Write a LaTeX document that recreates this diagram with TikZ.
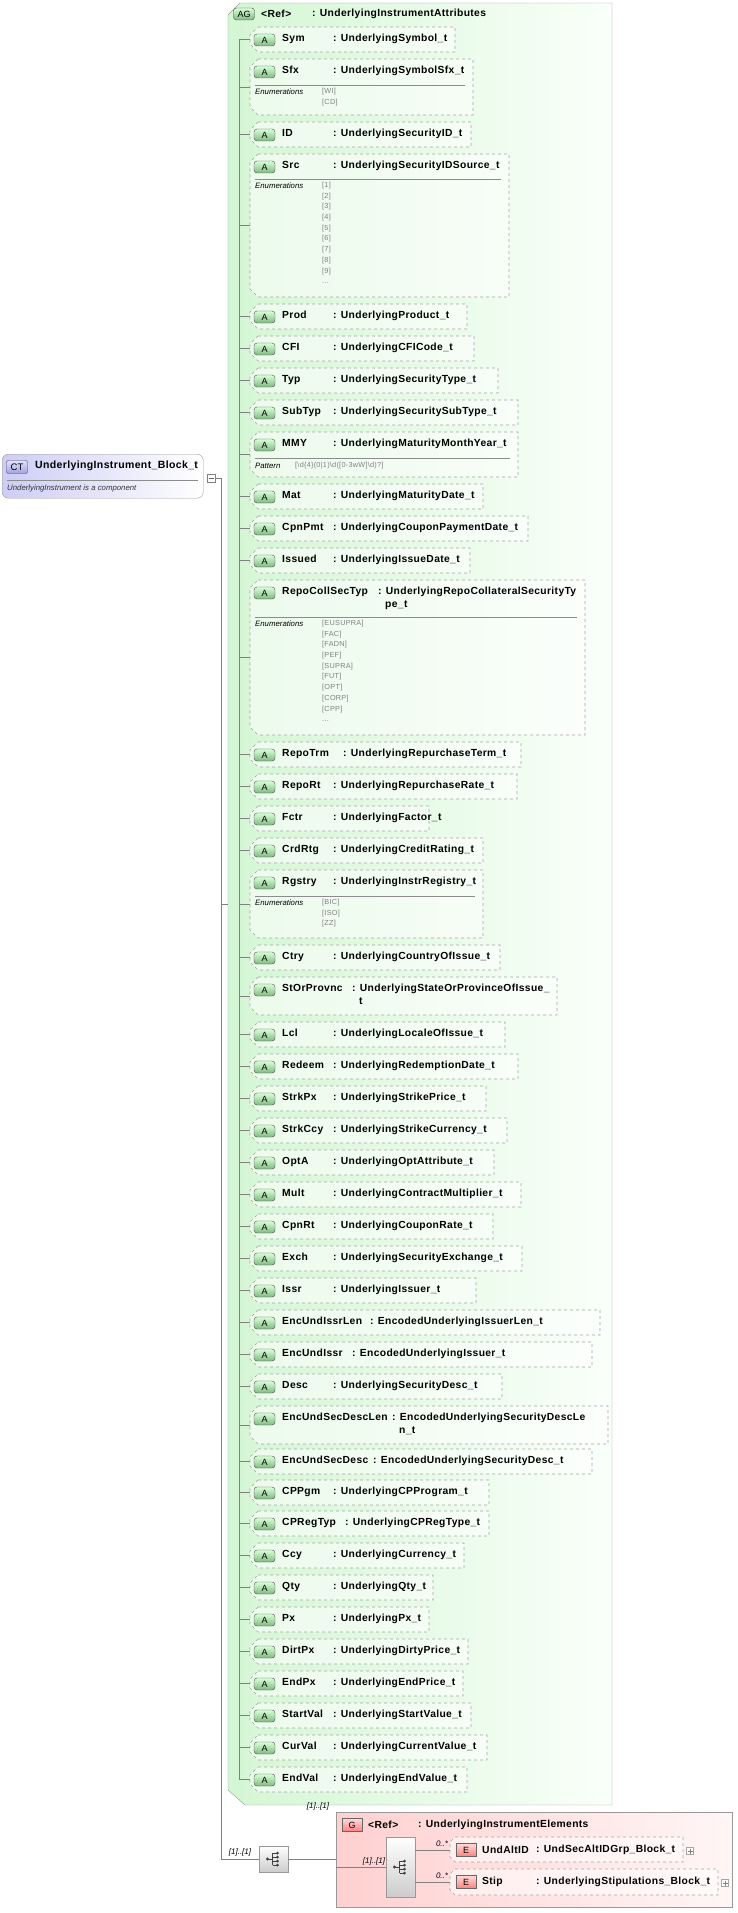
\documentclass[tikz,border=0pt]{standalone}
\usepackage{fontspec}
\setmainfont{Liberation Sans}
\newfontfamily\wide[LetterSpace=3.5]{Liberation Sans}
\begin{document}
\begin{tikzpicture}[x=1pt,y=-1pt,
  abox/.style={draw=black!35,dashed,fill=white,fill opacity=0.55,line width=0.6pt},
  aicon/.style={draw=black!70,rounded corners=3pt,top color=green!15!white,bottom color=green!45!black!50!white,minimum width=21pt,minimum height=12pt,inner sep=0pt,font=\fontsize{9}{10}\selectfont},
  aname/.style={anchor=north west,inner sep=0pt,font=\wide\fontsize{10.3}{12}\selectfont\bfseries},
  atype/.style={anchor=north west,inner sep=0pt,align=left,font=\wide\fontsize{10.3}{12.5}\selectfont\bfseries},
  tree/.style={draw=black!50,line width=0.5pt},
  sep/.style={draw=black!45,line width=0.5pt},
  enumlab/.style={anchor=north west,inner sep=0pt,font=\fontsize{7.8}{9}\selectfont\itshape},
  enumval/.style={anchor=north west,inner sep=0pt,align=left,text=black!50,font=\wide\fontsize{7.3}{10.7}\selectfont},
  card/.style={inner sep=0pt,font=\fontsize{8}{9}\selectfont\itshape},
  ricon/.style={draw=black!60,top color=red!15!white,bottom color=red!50!white,minimum width=20pt,minimum height=13pt,inner sep=0pt,font=\fontsize{9}{10}\selectfont},
  seqicon/.style={draw=black!40,top color=white,bottom color=black!20,inner sep=0pt}
]
\useasboundingbox (0,0) rectangle (737,1913);
\newcommand\attrbox[7]{%
  \path[abox] (258,#2) -- (#4,#2) -- (#4,#2+#3) -- (258,#2+#3) -- (250,#2+#3-8) -- (250,#2+8) -- cycle;
  \node[aicon] (#1i) at (264.5,#2+13) {A};
  \node[aname] (#1) at (282,#2+7) {#5};
  \node[atype] (#1t) at (#6,#2+7) {: #7};
  \coordinate (#1c) at (250,#2+#3/2);
  \coordinate (#1l) at (239,#2+#3/2);
  \draw[tree] (#1l) -- (#1c);
}
\newcommand\enumblk[5]{% top, right, sepoffset, label, values
  \draw[sep] (255,#1+#3) -- (#2-8,#1+#3);
  \node[enumlab] at (255,#1+#3+4) {#4};
  \node[enumval] at (322,#1+#3+3) {#5};
}
% main group
\path[draw=black!40,left color={rgb,255:red,212;green,246;blue,212},right color={rgb,255:red,250;green,255;blue,250}]
  (240,3) -- (612,3) -- (612,1805) -- (245,1805) -- (228,1790) -- (228,15) -- cycle;
\node[aicon,minimum width=21pt] (agi) at (244,14) {AG};
\node[aname,anchor=west] (agn) at (261,14) {<Ref>};
\node[aname,anchor=west] (agt) at (312,14) {: UnderlyingInstrumentAttributes};
\coordinate (agl) at (228,904);

\attrbox{sym}{27}{25}{455}{Sym}{333}{UnderlyingSymbol\_t}
\attrbox{sfx}{59}{56}{473}{Sfx}{333}{UnderlyingSymbolSfx\_t}
\enumblk{59}{473}{26}{Enumerations}{[WI]\\{[CD]}}
\attrbox{id}{122}{25}{471}{ID}{333}{UnderlyingSecurityID\_t}
\attrbox{src}{154}{143}{509}{Src}{333}{UnderlyingSecurityIDSource\_t}
\enumblk{154}{509}{25}{Enumerations}{[1]\\{[2]}\\{[3]}\\{[4]}\\{[5]}\\{[6]}\\{[7]}\\{[8]}\\{[9]}\\{...}}
\attrbox{prod}{304}{25}{467}{Prod}{333}{UnderlyingProduct\_t}
\attrbox{cfi}{336}{25}{474}{CFI}{333}{UnderlyingCFICode\_t}
\attrbox{typ}{368}{25}{498}{Typ}{333}{UnderlyingSecurityType\_t}
\attrbox{subtyp}{400}{25}{518}{SubTyp}{333}{UnderlyingSecuritySubType\_t}
\attrbox{mmy}{432}{45}{518}{MMY}{333}{UnderlyingMaturityMonthYear\_t}
\draw[sep] (255,458) -- (510,458);
\node[enumlab] at (255,463) {Pattern};
\node[enumval] at (295,462) {[\textbackslash d\{4\}(0|1)\textbackslash d([0-3wW]\textbackslash d)?]};
\attrbox{mat}{484}{25}{483}{Mat}{333}{UnderlyingMaturityDate\_t}
\attrbox{cpnpmt}{516}{25}{528}{CpnPmt}{333}{UnderlyingCouponPaymentDate\_t}
\attrbox{issued}{548}{25}{470}{Issued}{333}{UnderlyingIssueDate\_t}
\attrbox{repocoll}{580}{155}{585}{RepoCollSecTyp}{378}{UnderlyingRepoCollateralSecurityTy\\\hspace*{7pt}pe\_t}
\enumblk{580}{585}{37}{Enumerations}{[EUSUPRA]\\{[FAC]}\\{[FADN]}\\{[PEF]}\\{[SUPRA]}\\{[FUT]}\\{[OPT]}\\{[CORP]}\\{[CPP]}\\{...}}
\attrbox{repotrm}{742}{25}{521}{RepoTrm}{343}{UnderlyingRepurchaseTerm\_t}
\attrbox{repart}{774}{25}{517}{RepoRt}{333}{UnderlyingRepurchaseRate\_t}
\attrbox{fctr}{806}{25}{429}{Fctr}{333}{UnderlyingFactor\_t}
\attrbox{crdrtg}{838}{25}{483}{CrdRtg}{333}{UnderlyingCreditRating\_t}
\attrbox{rgstry}{870}{68}{483}{Rgstry}{333}{UnderlyingInstrRegistry\_t}
\enumblk{870}{483}{26}{Enumerations}{[BIC]\\{[ISO]}\\{[ZZ]}}
\attrbox{ctry}{945}{25}{500}{Ctry}{333}{UnderlyingCountryOfIssue\_t}
\attrbox{stor}{977}{38}{557}{StOrProvnc}{352}{UnderlyingStateOrProvinceOfIssue\_\\\hspace*{7pt}t}
\attrbox{lcl}{1022}{25}{505}{Lcl}{333}{UnderlyingLocaleOfIssue\_t}
\attrbox{redeem}{1054}{25}{518}{Redeem}{333}{UnderlyingRedemptionDate\_t}
\attrbox{strkpx}{1086}{25}{486}{StrkPx}{333}{UnderlyingStrikePrice\_t}
\attrbox{strkccy}{1118}{25}{507}{StrkCcy}{333}{UnderlyingStrikeCurrency\_t}
\attrbox{opta}{1150}{25}{494}{OptA}{333}{UnderlyingOptAttribute\_t}
\attrbox{mult}{1182}{25}{521}{Mult}{333}{UnderlyingContractMultiplier\_t}
\attrbox{cpnrt}{1214}{25}{493}{CpnRt}{333}{UnderlyingCouponRate\_t}
\attrbox{exch}{1246}{25}{522}{Exch}{333}{UnderlyingSecurityExchange\_t}
\attrbox{issr}{1278}{25}{476}{Issr}{333}{UnderlyingIssuer\_t}
\attrbox{euil}{1310}{25}{600}{EncUndIssrLen}{370}{EncodedUnderlyingIssuerLen\_t}
\attrbox{eui}{1342}{25}{592}{EncUndIssr}{352}{EncodedUnderlyingIssuer\_t}
\attrbox{desc}{1374}{25}{502}{Desc}{333}{UnderlyingSecurityDesc\_t}
\attrbox{eusdl}{1406}{38}{608}{EncUndSecDescLen}{392}{EncodedUnderlyingSecurityDescLe\\\hspace*{7pt}n\_t}
\attrbox{eusd}{1449}{25}{592}{EncUndSecDesc}{373}{EncodedUnderlyingSecurityDesc\_t}
\attrbox{cppgm}{1480}{25}{489}{CPPgm}{333}{UnderlyingCPProgram\_t}
\attrbox{cpreg}{1511}{25}{489}{CPRegTyp}{345}{UnderlyingCPRegType\_t}
\attrbox{ccy}{1543}{25}{464}{Ccy}{333}{UnderlyingCurrency\_t}
\attrbox{qty}{1575}{25}{433}{Qty}{333}{UnderlyingQty\_t}
\attrbox{px}{1607}{25}{429}{Px}{333}{UnderlyingPx\_t}
\attrbox{dirtpx}{1639}{25}{468}{DirtPx}{333}{UnderlyingDirtyPrice\_t}
\attrbox{endpx}{1671}{25}{463}{EndPx}{333}{UnderlyingEndPrice\_t}
\attrbox{startval}{1703}{25}{471}{StartVal}{333}{UnderlyingStartValue\_t}
\attrbox{curval}{1735}{25}{487}{CurVal}{333}{UnderlyingCurrentValue\_t}
\attrbox{endval}{1767}{25}{467}{EndVal}{333}{UnderlyingEndValue\_t}
\draw[tree] (syml) -- (endvall);

% complex type node
\node[draw=black!40,rounded corners=6pt,left color={rgb,255:red,205;green,205;blue,245},right color=white,minimum width=201pt,minimum height=44pt,anchor=north west,inner sep=0pt] (ct) at (2,454) {};
\node[draw=black!70,rounded corners=2pt,top color={rgb,255:red,225;green,225;blue,255},bottom color={rgb,255:red,160;green,160;blue,225},minimum width=21pt,minimum height=13pt,inner sep=0pt,font=\fontsize{9.5}{10}\selectfont] (cti) at (17,467) {CT};
\node[aname,anchor=west,font=\wide\fontsize{10.5}{12}\selectfont\bfseries] (ctn) at (35,466) {UnderlyingInstrument\_Block\_t};
\draw[sep] (7,480) -- (198,480);
\node[enumlab,anchor=west,text=black!80] (ctd) at (7,488) {UnderlyingInstrument is a component};
\node[draw=black!50,fill=white,minimum size=8pt,inner sep=0pt] (ctm) at (211,478) {};
\draw[black!60,line width=0.4pt] (208.5,478) -- (213.5,478);
\coordinate (j1) at (221,478);
\coordinate (j2) at (221,1859);
\coordinate (agj) at (221,904);
\draw[tree] (ctm.east) -- (j1) -- (j2);
\draw[tree] (agj) -- (agl);

% outer sequence
\node[seqicon,minimum width=29pt,minimum height=26pt] (seq1) at (273.5,1859) {};
\draw[tree] (j2) -- (seq1.west);
\node[card] at (240,1852) {[1]..[1]};

% pink group
\node[draw=black!40,left color={rgb,255:red,255;green,208;blue,208},right color={rgb,255:red,255;green,246;blue,246},minimum width=396pt,minimum height=95pt,anchor=north west,inner sep=0pt] (grp) at (336,1812) {};
\node[card] at (318,1806) {[1]..[1]};
\draw[tree] (seq1.east) -- (seq1.east -| grp.west);
\node[ricon] (gi) at (352,1825) {G};
\node[aname,anchor=west] (gr) at (368,1825) {<Ref>};
\node[aname,anchor=west] (gt) at (418,1825) {: UnderlyingInstrumentElements};
\node[seqicon,minimum width=29pt,minimum height=60pt] (seq2) at (400.5,1867) {};
\coordinate (gl) at (336,1867);
\draw[tree] (gl) -- (seq2.west);
\node[card] at (374,1861) {[1]..[1]};

% elements
\path[abox] (455,1837) -- (683,1837) -- (683,1862) -- (455,1862) -- (450,1857) -- (450,1842) -- cycle;
\node[ricon] (e1i) at (466,1850) {E};
\node[aname,anchor=west] (e1) at (482,1850) {UndAltID};
\node[aname,anchor=west] (e1t) at (536,1850) {: UndSecAltIDGrp\_Block\_t};
\node[draw=black!35,fill=white,minimum size=7pt,inner sep=0pt] (e1p) at (690,1851) {};
\draw[black!50,line width=0.3pt] (687.5,1851) -- (692.5,1851) (690,1848.5) -- (690,1853.5);
\coordinate (e1l) at (450,1850);
\draw[tree] (seq2.east |- e1l) -- (e1l);
\node[card] at (442,1844) {0..*};

\path[abox] (455,1869) -- (718,1869) -- (718,1895) -- (455,1895) -- (450,1890) -- (450,1874) -- cycle;
\node[ricon] (e2i) at (466,1882) {E};
\node[aname,anchor=west] (e2) at (482,1882) {Stip};
\node[aname,anchor=west] (e2t) at (536,1882) {: UnderlyingStipulations\_Block\_t};
\node[draw=black!35,fill=white,minimum size=7pt,inner sep=0pt] (e2p) at (725,1883) {};
\draw[black!50,line width=0.3pt] (722.5,1883) -- (727.5,1883) (725,1880.5) -- (725,1885.5);
\coordinate (e2l) at (450,1882);
\draw[tree] (seq2.east |- e2l) -- (e2l);
\node[card] at (442,1876) {0..*};

% sequence glyphs
\foreach \s in {seq1,seq2}{
  \fill[black!75] ([xshift=-6pt]\s.center) circle (1.6pt);
  \draw[black!75,line width=0.6pt] ([xshift=-6pt]\s.center) -- ([xshift=-1pt]\s.center)
    ([xshift=-1pt,yshift=-6pt]\s.center) -- ([xshift=-1pt,yshift=6pt]\s.center)
    ([xshift=-1pt,yshift=-6pt]\s.center) -- ([xshift=3pt,yshift=-6pt]\s.center)
    ([xshift=-1pt,yshift=6pt]\s.center) -- ([xshift=3pt,yshift=6pt]\s.center)
    ([xshift=-1pt,yshift=2pt]\s.center) -- ([xshift=3pt,yshift=2pt]\s.center)
    ([xshift=-1pt,yshift=-2pt]\s.center) -- ([xshift=3pt,yshift=-2pt]\s.center);
  \foreach \d in {-6,-2,2,6} \fill[black!75] ([xshift=4pt,yshift=\d pt]\s.center) circle (1.5pt);
}
\end{tikzpicture}
\end{document}
